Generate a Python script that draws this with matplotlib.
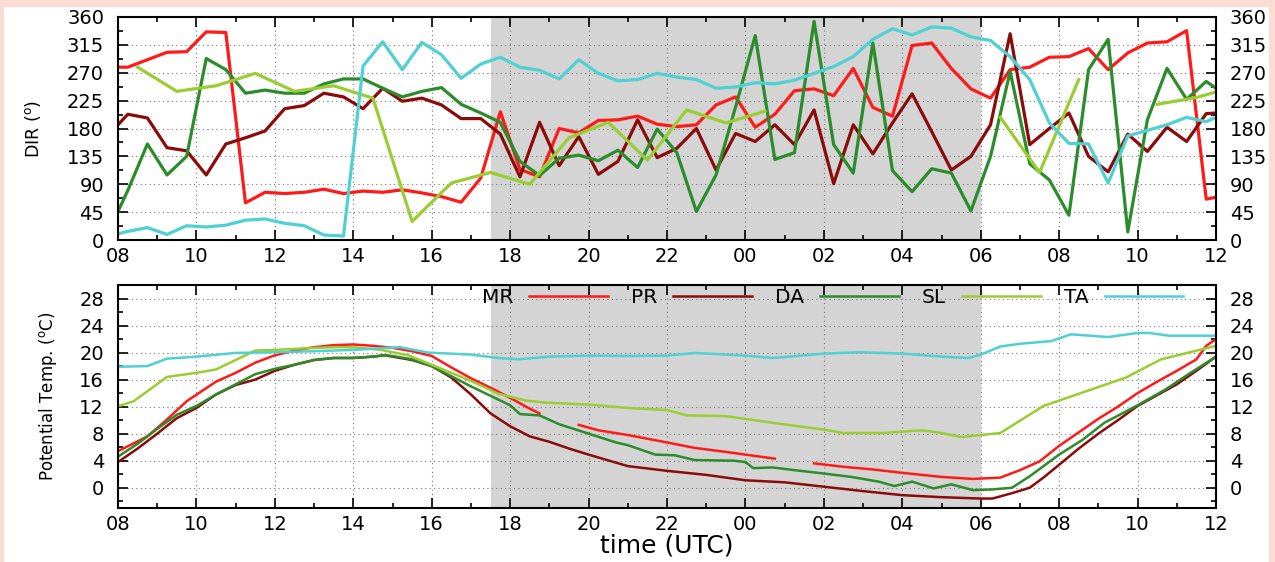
import numpy as np
import matplotlib.pyplot as plt
from matplotlib.patches import Rectangle
from matplotlib.ticker import MultipleLocator, FixedLocator

plt.rcParams['font.family'] = ['DejaVu Sans']
plt.rcParams['mathtext.default'] = 'regular'

nan = np.nan

# ---- wind direction (top panel), half-hourly, hours since 00 of day 1
hours_dir = np.array([8.0] + list(np.arange(8.25, 36.0, 0.5)) + [36.0])
dir_mr = [279, 279, 291, 303, 304, 336, 335, 60, 77, 75,
          77, 82, 75, 79, 77, 81, 76, 70, 61, 100,
          207, 114, 102, 180, 173, 193, 194, 200, 187, 183,
          186, 218, 231, 182, 203, 241, 244, 233, 277, 214,
          200, 314, 318, 277, 244, 229, 275, 279, 295, 296,
          309, 275, 302, 318, 320, 338, 66, 69]
dir_pr = [186, 203, 197, 149, 144, 105, 155, 165, 176, 212,
          217, 237, 231, 212, 245, 224, 229, 218, 196, 196,
          171, 102, 190, 120, 167, 106, 127, 194, 133, 148,
          180, 113, 172, 159, 186, 154, 210, 91, 186, 139,
          189, 236, 175, 113, 135, 186, 333, 154, 180, 205,
          135, 110, 171, 143, 182, 159, 204, 205]
dir_da = [46, 80, 155, 105, 135, 293, 275, 237, 242, 237,
          237, 252, 260, 260, 245, 231, 240, 246, 219, 205,
          190, 127, 104, 132, 137, 128, 145, 117, 179, 141,
          46, 105, 215, 330, 130, 141, 353, 154, 108, 318,
          112, 78, 115, 108, 47, 135, 272, 123, 97, 40,
          275, 324, 13, 194, 277, 227, 256, 245]
dir_ta = [10, 14, 20, 9, 23, 21, 24, 32, 34, 27,
          23, 8, 6.5, 281, 320, 275, 319, 299, 261, 284,
          295, 279, 274, 260, 291, 269, 257, 259, 269, 263,
          259, 245, 247, 254, 252, 258, 269, 280, 296, 324,
          341, 331, 344, 342, 328, 322, 296, 259, 189, 156,
          155, 92, 168, 177, 186, 198, 191, 198]
# SL is hourly at half past, with gaps
hours_sl = np.array(list(np.arange(8.5, 36.0, 1.0)) + [36.0])
dir_sl = [279, 240, 249, 269, 240, 249, 229, 30, 92, 109,
          90, 165, 190, 129, 210, 189, 208, nan, nan, nan,
          nan, nan, 198, 109, 259, nan, 219, 230, 239]

# ---- potential temperature (bottom panel)
t_mr = [8.0, 8.75, 9.25, 9.75, 10.5, 11.0, 11.5, 12.0, 12.5, 13.0, 13.5, 14.0, 14.5, 15.0,
        15.5, 16.0, 16.5, 17.0, 17.5, 18.0, 18.5, 18.75, 19.2, 19.75, 20.25, 21.0, 22.0,
        22.7, 23.5, 24.0, 24.75, 25.2, 25.75, 26.5, 27.25, 28.0, 29.0, 29.8, 30.5, 31.0,
        31.5, 32.0, 32.5, 33.0, 33.5, 34.0, 34.5, 35.0, 35.5, 35.75, 36.0]
th_mr = [5.4, 7.6, 10.1, 12.8, 15.7, 17.0, 18.5, 19.6, 20.3, 20.8, 21.1, 21.2, 21.0, 20.7,
         20.2, 19.5, 17.8, 16.2, 14.8, 13.3, 11.7, 11.0, nan, 9.3, 8.5, 7.8, 6.7,
         5.9, 5.3, 4.9, 4.3, nan, 3.6, 3.1, 2.7, 2.2, 1.6, 1.3, 1.5, 2.6,
         3.9, 6.2, 8.2, 10.2, 12.0, 14.0, 15.7, 17.3, 19.0, 21.0, 22.0]
t_pr = [8.0, 8.5, 9.0, 9.5, 10.0, 10.5, 11.0, 11.5, 12.0, 12.5, 13.0, 13.5, 14.0, 14.5,
        14.8, 15.0, 15.5, 16.0, 16.5, 17.0, 17.5, 18.0, 18.5, 19.0, 19.5, 20.0, 21.0, 22.0,
        23.0, 24.0, 25.0, 26.0, 27.0, 28.0, 29.0, 30.0, 30.3, 30.8, 31.25, 31.6, 32.0,
        32.5, 33.0, 33.5, 34.0, 34.5, 35.0, 35.5, 36.0]
th_pr = [3.8, 5.8, 8.0, 10.3, 11.8, 13.8, 15.2, 16.0, 17.3, 18.2, 18.9, 19.2, 19.2, 19.4,
         19.6, 19.4, 18.9, 18.0, 16.3, 13.8, 11.0, 9.1, 7.6, 6.8, 5.8, 4.9, 3.2, 2.5,
         1.9, 1.1, 0.8, 0.15, -0.5, -1.1, -1.4, -1.6, -1.6, -0.8, 0.0, 1.5, 3.4,
         5.8, 8.0, 10.0, 12.1, 13.7, 15.3, 17.3, 19.4]
t_da = [8.0, 8.5, 9.0, 9.5, 10.0, 10.5, 11.0, 11.5, 12.0, 12.5, 13.0, 13.5, 14.0, 14.5,
        14.8, 15.0, 15.5, 16.0, 16.5, 17.0, 17.5, 18.0, 18.25, 18.75, 19.25, 20.0, 20.7,
        21.0, 21.7, 22.2, 22.7, 23.7, 24.0, 24.2, 24.7, 25.25, 26.0, 26.7, 27.4, 27.8,
        28.25, 28.8, 29.25, 29.8, 30.3, 30.8, 31.25, 32.0, 32.6, 33.15, 34.0, 34.7,
        35.35, 36.0]
th_da = [4.6, 6.5, 8.7, 10.8, 12.1, 13.8, 15.3, 16.8, 17.6, 18.2, 18.9, 19.2, 19.2, 19.4,
         19.6, 19.5, 19.0, 18.0, 16.5, 15.0, 13.6, 12.2, 10.9, 10.7, 9.4, 8.0, 6.7,
         6.3, 4.9, 4.8, 4.1, 4.0, 3.8, 2.9, 3.0, 2.6, 2.1, 1.6, 0.9, 0.25,
         0.9, -0.1, 0.5, -0.35, -0.25, 0.0, 1.7, 4.9, 7.1, 9.6, 12.2, 14.5,
         17.0, 19.4]
t_sl = [8.0, 8.4, 9.25, 10.0, 10.5, 11.5, 12.0, 13.0, 13.6, 14.0, 14.7, 15.4, 16.0, 17.0,
        17.7, 18.4, 18.9, 20.0, 21.0, 22.0, 22.5, 23.5, 24.7, 26.0, 26.5, 27.5, 28.5,
        29.0, 29.5, 30.0, 30.5, 31.6, 32.6, 33.7, 34.6, 36.0]
th_sl = [12.05, 12.8, 16.4, 17.0, 17.5, 20.3, 20.4, 20.7, 20.8, 20.8, 20.4, 19.6, 18.2, 15.8,
         13.9, 12.9, 12.6, 12.3, 11.8, 11.5, 10.7, 10.6, 9.6, 8.6, 8.1, 8.1, 8.5,
         8.1, 7.5, 7.8, 8.1, 12.1, 14.1, 16.3, 19.0, 21.0]
t_ta = [8.0, 8.75, 9.25, 10.0, 11.0, 12.0, 13.0, 14.0, 15.2, 15.9, 17.0, 17.7, 18.2, 19.0,
        20.0, 21.0, 22.0, 22.7, 24.0, 24.7, 26.0, 26.9, 28.0, 29.0, 29.7, 30.0, 30.5,
        31.0, 31.8, 32.3, 33.25, 34.0, 34.3, 34.8, 36.0]
th_ta = [17.9, 18.0, 19.1, 19.4, 19.95, 20.05, 20.2, 20.4, 20.8, 20.0, 19.7, 19.2, 19.0, 19.4,
         19.55, 19.5, 19.55, 19.95, 19.55, 19.2, 19.85, 20.05, 19.85, 19.4, 19.2, 19.7, 20.9,
         21.3, 21.7, 22.7, 22.3, 22.9, 22.9, 22.5, 22.5]

names = ["MR", "PR", "DA", "SL", "TA"]
colors = ["#ff1a1a", "#8b0a0a", "#2a8c2a", "#9acd32", "#4fd0d2"]
night = (17.5, 30.0)

fig = plt.figure(figsize=(12.75, 5.62), dpi=100)
fig.patch.set_facecolor("#fddcd5")
fig.add_artist(Rectangle((0.003, 0), 0.992, 1 - 7 / 562, transform=fig.transFigure,
                         facecolor="white", edgecolor="none", zorder=0))

ax1 = fig.add_axes([118 / 1275, 1 - 240 / 562, 1098 / 1275, 223 / 562])
ax2 = fig.add_axes([118 / 1275, 1 - 508 / 562, 1098 / 1275, 223 / 562])


def style(ax):
    ax.set_facecolor("white")
    ax.axvspan(*night, color="#d4d4d4", lw=0, zorder=0.2)
    ax.set_axisbelow(True)
    ax.grid(True, which="major", linestyle=(0, (1, 3)), color="#777777", lw=0.8)
    ax.set_xlim(8, 36)
    xt = np.arange(8, 37, 2)
    ax.xaxis.set_major_locator(FixedLocator(xt))
    ax.set_xticklabels([f"{int(h) % 24:02d}" for h in xt])
    ax.xaxis.set_minor_locator(MultipleLocator(1))
    ax.tick_params(which="both", direction="in", top=True, right=True,
                   labelright=True, labelsize=14, width=1.2)
    ax.tick_params(which="major", length=7)
    ax.tick_params(which="minor", length=3.5)
    ax.tick_params(axis="y", pad=10)
    ax.tick_params(axis="y", which="both", labelright=True)
    ax.tick_params(axis="x", pad=5)
    for s in ax.spines.values():
        s.set_linewidth(1.5)


style(ax1)
style(ax2)

# top: direction
for vals, c in zip([dir_mr, dir_pr, dir_da], colors[:3]):
    ax1.plot(hours_dir, vals, color=c, lw=2.3)
ax1.plot(hours_sl, dir_sl, color=colors[3], lw=2.3)
ax1.plot(hours_dir, dir_ta, color=colors[4], lw=2.3)
ax1.set_ylim(0, 360)
ax1.yaxis.set_major_locator(MultipleLocator(45))
ax1.yaxis.set_minor_locator(MultipleLocator(22.5))
ax1.set_ylabel(r"DIR ($^{o}$)", fontsize=12.5)
ax1.yaxis.set_label_coords(-0.068, 0.5)

# bottom: potential temperature
series = [(t_mr, th_mr), (t_pr, th_pr), (t_da, th_da), (t_sl, th_sl), (t_ta, th_ta)]
for (tt, vv), c, n in zip(series, colors, names):
    ax2.plot(tt, vv, color=c, lw=1.8, label=n)
ax2.set_ylim(-3, 30)
ax2.yaxis.set_major_locator(FixedLocator(np.arange(0, 29, 4)))
ax2.yaxis.set_minor_locator(MultipleLocator(2))
ax2.set_ylabel(r"Potential Temp. ($^{o}$C)", fontsize=12)
ax2.yaxis.set_label_coords(-0.054, 0.5)
ax2.set_xlabel("time (UTC)", fontsize=18, labelpad=0)

leg = ax2.legend(ncol=5, markerfirst=False, frameon=False, fontsize=14.5,
                 handlelength=3.9, handletextpad=0.8, columnspacing=1.15,
                 loc="center right", bbox_to_anchor=(0.97, 0.942),
                 borderpad=0, borderaxespad=0)

fig.savefig("out.png", dpi=100, facecolor=fig.get_facecolor())
